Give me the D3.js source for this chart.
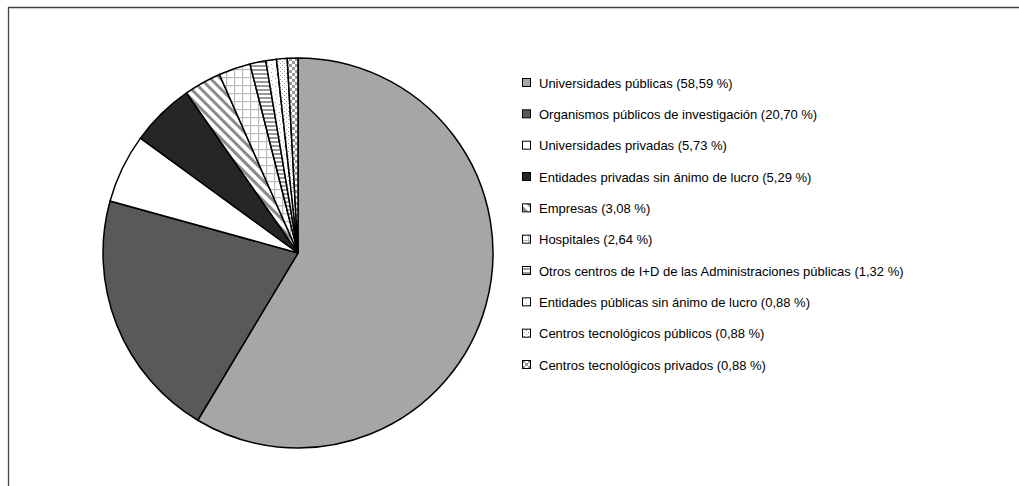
<!DOCTYPE html>
<html><head><meta charset="utf-8">
<script src="https://cdn.jsdelivr.net/npm/d3@7"></script>
<style>body{margin:0;background:#fff}svg{display:block}</style>
</head><body>
<script>
const categories = ["Universidades públicas","Organismos públicos de investigación","Universidades privadas","Entidades privadas sin ánimo de lucro","Empresas","Hospitales","Otros centros de I+D de las Administraciones públicas","Entidades públicas sin ánimo de lucro","Centros tecnológicos públicos","Centros tecnológicos privados"];
const values = [58.59,20.70,5.73,5.29,3.08,2.64,1.32,0.88,0.88,0.88];
const labels = ["58,59 %","20,70 %","5,73 %","5,29 %","3,08 %","2,64 %","1,32 %","0,88 %","0,88 %","0,88 %"];
const fills = ["#a6a6a6","#595959","#ffffff","#262626","url(#pDiag)","url(#pGrid)","url(#pHoriz)","url(#pDots1)","url(#pDots2)","url(#pCheck)"];

const W=1019,H=486;
const svg=d3.select("body").append("svg").attr("width",W).attr("height",H);
const defs=svg.append("defs");
// patterns
let p=defs.append("pattern").attr("id","pDiag").attr("patternUnits","userSpaceOnUse").attr("width",7).attr("height",7).attr("patternTransform","rotate(45)");
p.append("rect").attr("width",7).attr("height",7).attr("fill","#fff");
p.append("rect").attr("width",7).attr("height",3).attr("fill","#8c8c8c");
p=defs.append("pattern").attr("id","pGrid").attr("patternUnits","userSpaceOnUse").attr("width",8).attr("height",8);
p.append("rect").attr("width",8).attr("height",8).attr("fill","#fff");
p.append("rect").attr("width",8).attr("height",1.2).attr("fill","#bbb");
p.append("rect").attr("width",1.2).attr("height",8).attr("fill","#bbb");
p=defs.append("pattern").attr("id","pHoriz").attr("patternUnits","userSpaceOnUse").attr("width",4).attr("height",4);
p.append("rect").attr("width",4).attr("height",4).attr("fill","#fff");
p.append("rect").attr("width",4).attr("height",2).attr("fill","#999");
p=defs.append("pattern").attr("id","pDots1").attr("patternUnits","userSpaceOnUse").attr("width",8).attr("height",8);
p.append("rect").attr("width",8).attr("height",8).attr("fill","#fff");
[[1,1],[5,3],[2,5],[6,7]].forEach(([x,y])=>p.append("rect").attr("x",x).attr("y",y).attr("width",1).attr("height",1).attr("fill","#aaa"));
p=defs.append("pattern").attr("id","pDots2").attr("patternUnits","userSpaceOnUse").attr("width",4).attr("height",4);
p.append("rect").attr("width",4).attr("height",4).attr("fill","#fff");
[[0,0],[2,2]].forEach(([x,y])=>p.append("rect").attr("x",x).attr("y",y).attr("width",1).attr("height",1).attr("fill","#999"));
p=defs.append("pattern").attr("id","pCheck").attr("patternUnits","userSpaceOnUse").attr("width",6).attr("height",6);
p.append("rect").attr("width",6).attr("height",6).attr("fill","#fff");
p.append("rect").attr("width",3).attr("height",3).attr("fill","#999");
p.append("rect").attr("x",3).attr("y",3).attr("width",3).attr("height",3).attr("fill","#999");

// frame
svg.append("path").attr("d","M8.5,486 V7.5 H1019").attr("fill","none").attr("stroke","#444").attr("stroke-width",1.3);

const cx=298,cy=253,r=195;
const pie=d3.pie().sort(null).value(d=>d)(values);
const arc=d3.arc().innerRadius(0).outerRadius(r);
const g=svg.append("g").attr("transform",`translate(${cx},${cy})`);
g.selectAll("path").data(pie).join("path").attr("d",arc)
 .attr("fill",(d,i)=>fills[i]).attr("stroke","#000").attr("stroke-width",1.5).attr("stroke-linejoin","round");

// legend
const ly=d3.scalePoint().domain(d3.range(categories.length)).range([83,365]);
const lg=svg.append("g");
categories.forEach((c,i)=>{
  const y=ly(i);
  lg.append("rect").attr("x",522.5).attr("y",y-4.5).attr("width",8).attr("height",8).attr("fill",fills[i]).attr("stroke","#000").attr("stroke-width",1);
  lg.append("text").attr("x",539).attr("y",y+4.7).attr("font-family","Liberation Sans, Arial, sans-serif").attr("font-size",13).attr("fill","#000").text(`${c} (${labels[i]})`);
});
</script>
</body></html>
